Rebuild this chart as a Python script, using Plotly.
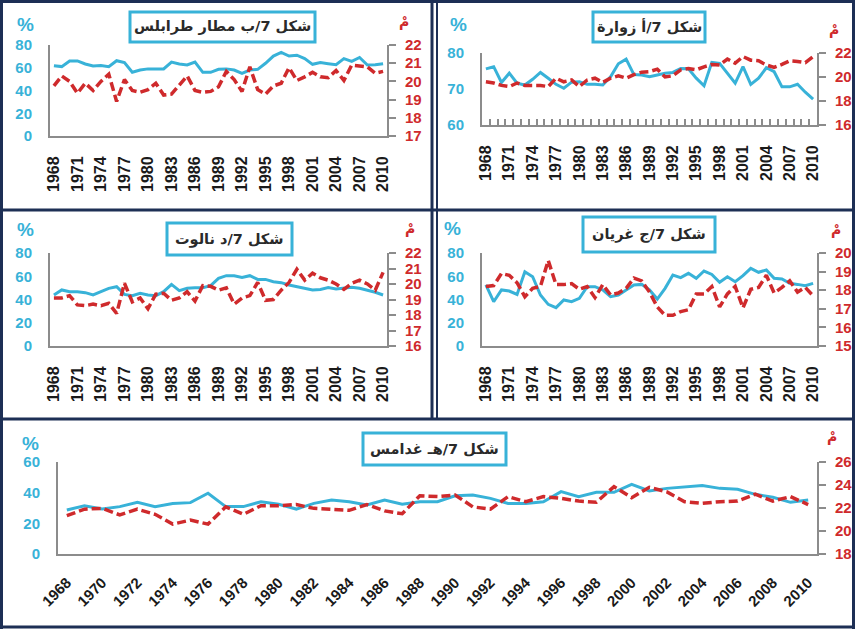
import plotly.graph_objects as go

W, H = 855, 629

years = list(range(1968, 2011))

titles = ["شكل 7/ب مطار طرابلس", "شكل 7/أ زوارة", "شكل 7/د نالوت", "شكل 7/ج غريان", "شكل 7/هـ غدامس"]

tripoli_rh = [61.8, 61, 66, 66, 63.3, 61.5, 62, 61, 66.2, 64.5, 56, 58, 59, 59, 59, 65, 63.3, 62.4, 65, 56,
              56, 58.6, 59, 58, 55, 58, 58.6, 63.9, 70.3, 73.5, 70.3, 71, 68, 63, 64.5, 63.6, 62.7, 68, 65.6, 69,
              62.4, 62.7, 63.6]
tripoli_temp = [19.75, 20.3, 20.0, 19.35, 19.9, 19.5, 20.0, 20.4, 18.9, 20.1, 19.5, 19.4, 19.55, 19.9, 19.25, 19.3,
                19.8, 20.3, 19.5, 19.4, 19.45, 19.7, 20.55, 20.1, 19.45, 20.8, 19.55, 19.3, 19.75, 19.9, 20.75,
                20.05, 20.25, 20.5, 20.25, 20.2, 20.6, 20.05, 20.9, 20.85, 20.8, 20.45, 20.55]

zuwara_rh = [75.6, 76.2, 71.8, 74.4, 71.6, 71.1, 72.7, 74.6, 73, 71.3, 70.2, 71.9, 72, 71.3, 71.3, 71.1, 73.4, 77,
             78.3, 74, 73.9, 73.4, 73.9, 74.4, 74.6, 75.7, 75.6, 73, 70.9, 77.4, 77.1, 74.4, 71.6, 76.2, 71.3, 73,
             75.9, 74.8, 70.6, 70.6, 71.3, 69.1, 67.2]
zuwara_temp = [19.6, 19.5, 19.3, 19.2, 19.5, 19.3, 19.3, 19.3, 19.2, 19.9, 19.6, 19.75, 19.2, 19.75, 19.9, 19.55,
               19.9, 20.1, 19.9, 20.2, 20.4, 20.45, 20.65, 20.0, 20.1, 20.6, 20.7, 20.6, 20.85, 21.05, 21.0, 21.5,
               21.15, 21.7, 21.4, 21.35, 21.0, 20.8, 21.05, 21.35, 21.3, 21.2, 21.7]

nalut_rh = [43.9, 48.2, 46.7, 46.7, 45.9, 43.9, 46.7, 49.6, 51, 44.4, 43.3, 45.3, 43.9, 43.3, 46.7, 53, 47.6, 49.6,
            50.2, 50.2, 51.9, 58.2, 60.5, 60.5, 59, 60.5, 57.3, 57.3, 55.3, 54.5, 52.5, 51, 49.6, 48.2, 48.7, 50.2,
            49, 49.6, 50.5, 49.6, 48.2, 46.2, 43.9]
nalut_temp = [19.1, 19.1, 19.25, 18.65, 18.6, 18.7, 18.6, 18.75, 18.1, 20.05, 18.85, 19.1, 18.4, 19.35, 19.4, 18.95,
              19.1, 19.5, 18.9, 19.9, 19.85, 19.6, 19.75, 18.7, 19.1, 19.25, 20.1, 18.95, 19.0, 19.6, 20.1, 20.95,
              20.25, 20.7, 20.4, 20.25, 20.0, 19.65, 20.05, 20.25, 20.0, 19.6, 20.75]

gharyan_rh = [52.5, 38.1, 48.2, 47.3, 44.4, 63.9, 59.6, 43.9, 35.8, 33, 39.6, 38.1, 41, 51, 51, 48.2, 42.4, 43.9,
              48.2, 52.5, 53, 48.2, 40.4, 49.6, 61.1, 58.8, 62.5, 58.2, 64.5, 61.6, 54.8, 59.6, 55.3, 60.5, 66.8,
              63.4, 65.4, 58.2, 57.6, 53.9, 53, 51.9, 53.9]
gharyan_temp = [18.2, 18.25, 18.9, 18.8, 18.4, 17.65, 18.1, 18.2, 19.6, 18.3, 18.3, 18.35, 18.05, 18.2, 17.6, 18.3,
                17.75, 17.85, 18.1, 18.65, 18.5, 17.9, 17.1, 16.65, 16.65, 16.85, 16.95, 17.8, 17.8, 18.2, 17.1,
                17.8, 18.2, 17.05, 18.05, 18.15, 18.8, 17.85, 18.15, 18.5, 17.9, 18.15, 17.7]

ghadames_rh = [28.7, 31.5, 29.3, 30.9, 33.7, 30.9, 33, 33.5, 39.6, 30.9, 30.9, 34.1, 32.4, 29.3, 33, 35.2, 34.1, 32,
               35.2, 32.4, 34.1, 34.1, 38, 38.5, 36.3, 33, 33, 34.1, 40.7, 37.4, 40.2, 40.2, 45.4, 41.1, 42.8, 43.5,
               44.6, 42.8, 42.2, 38.9, 37, 33.7, 35.2]
ghadames_temp = [21.33, 21.9, 21.97, 21.4, 21.9, 21.45, 20.6, 20.95, 20.6, 22.1, 21.45, 22.2, 22.2, 22.3, 21.97,
                 21.9, 21.8, 22.3, 21.75, 21.5, 23.07, 22.99, 23.13, 22.1, 21.9, 22.99, 22.55, 22.99, 22.84, 22.6,
                 22.5, 23.86, 22.9, 23.8, 23.4, 22.55, 22.4, 22.55, 22.6, 23.2, 22.6, 22.99, 22.3]

BLUE = "#38b2d8"
RED = "#cf2a2c"
AXIS = "#8c8c8c"
NAVY = "#1d2f55"


def px(x):
    return x / W


def py(y):
    return 1 - y / H


panels = [
    dict(rh=tripoli_rh, t=tripoli_temp, x=(50, 387), y=(45, 136), yl=(0, 80), dl=20, yr=(17, 22), dr=1,
         step=3, ang=-90, minor=False, title_box=(130, 12, 315, 42), pct=(25, 25), deg=(404, 22)),
    dict(rh=zuwara_rh, t=zuwara_temp, x=(482, 817), y=(53, 125), yl=(60, 80), dl=10, yr=(16, 22), dr=2,
         step=3, ang=-90, minor=True, title_box=(593, 12, 705, 42), pct=(458, 25), deg=(834, 30)),
    dict(rh=nalut_rh, t=nalut_temp, x=(50, 387), y=(253, 346), yl=(0, 80), dl=20, yr=(16, 22), dr=1,
         step=3, ang=-90, minor=False, title_box=(167, 223, 292, 255), pct=(25, 229), deg=(410, 229)),
    dict(rh=gharyan_rh, t=gharyan_temp, x=(482, 817), y=(253, 346), yl=(0, 80), dl=20, yr=(15, 20), dr=1,
         step=3, ang=-90, minor=False, title_box=(583, 217, 715, 252), pct=(452, 228), deg=(836, 230)),
    dict(rh=ghadames_rh, t=ghadames_temp, x=(58, 817), y=(462, 554), yl=(0, 60), dl=20, yr=(18, 26), dr=2,
         step=2, ang=-45, minor=False, title_box=(363, 433, 506, 465), pct=(30, 443), deg=(832, 437)),
]

fig = go.Figure()
shapes = []
annotations = []
layout = {}

for k, p in enumerate(panels, start=1):
    xid = "x" if k == 1 else f"x{k}"
    yid = "y" if k == 1 else f"y{k}"
    yrid = f"y{k + 5}"
    xkey = "xaxis" if k == 1 else f"xaxis{k}"
    ykey = "yaxis" if k == 1 else f"yaxis{k}"
    yrkey = f"yaxis{k + 5}"

    fig.add_trace(go.Scatter(x=years, y=p["rh"], mode="lines", line=dict(color=BLUE, width=3),
                             xaxis=xid, yaxis=yid, showlegend=False))
    fig.add_trace(go.Scatter(x=years, y=p["t"], mode="lines",
                             line=dict(color=RED, width=3.5, dash="9px,4px"),
                             xaxis=xid, yaxis=yrid, showlegend=False))

    tickfont_x = dict(family="Liberation Sans", size=16 if p["ang"] == -90 else 15, color="#1a1a1a", weight=700)
    xa = dict(domain=[px(p["x"][0]), px(p["x"][1])], anchor=yid, range=[1967.5, 2010.5],
              tickmode="array", tickvals=years[::p["step"]], tickangle=p["ang"], tickfont=tickfont_x,
              showline=True, linecolor=AXIS, linewidth=2, ticks="outside", ticklen=12,
              tickcolor="rgba(0,0,0,0)", showgrid=False, zeroline=False, fixedrange=True, automargin=False)
    if p["minor"]:
        xa["minor"] = dict(ticks="inside", ticklen=6, tickwidth=1.5, tickcolor=AXIS,
                           tickmode="array", tickvals=[yv + 0.5 for yv in years[:-1]])
    layout[xkey] = xa

    layout[ykey] = dict(domain=[py(p["y"][1]), py(p["y"][0])], anchor=xid, range=list(p["yl"]),
                        dtick=p["dl"], tick0=0, showline=True, linecolor=AXIS, linewidth=2,
                        ticks="outside", ticklen=13, tickcolor="rgba(0,0,0,0)",
                        tickfont=dict(family="Liberation Sans", size=15, color=BLUE, weight=700),
                        showgrid=False, zeroline=False, fixedrange=True, automargin=False)
    layout[yrkey] = dict(overlaying=yid, side="right", anchor=xid, range=list(p["yr"]), dtick=p["dr"],
                         tick0=0, showline=True, linecolor=AXIS, linewidth=2, ticks="outside", ticklen=7,
                         tickwidth=2, tickcolor=AXIS, ticklabelstandoff=6,
                         tickfont=dict(family="Liberation Sans", size=15, color=RED, weight=700),
                         showgrid=False, zeroline=False, fixedrange=True, automargin=False)

    x0, y0, x1, y1 = p["title_box"]
    shapes.append(dict(type="rect", xref="paper", yref="paper", x0=px(x0), x1=px(x1), y0=py(y1), y1=py(y0),
                       line=dict(color=BLUE, width=3), fillcolor="white", layer="above"))
    annotations.append(dict(xref="paper", yref="paper", x=px((x0 + x1) / 2), y=py((y0 + y1) / 2),
                            text=titles[k - 1], showarrow=False, xanchor="center", yanchor="middle",
                            font=dict(family="DejaVu Sans", size=14.5, color="#2a2a2a", weight=700)))
    annotations.append(dict(xref="paper", yref="paper", x=px(p["pct"][0]), y=py(p["pct"][1]), text="%",
                            showarrow=False, xanchor="center", yanchor="middle",
                            font=dict(family="Liberation Sans", size=19, color=BLUE, weight=700)))
    annotations.append(dict(xref="paper", yref="paper", x=px(p["deg"][0]), y=py(p["deg"][1]), text="مْ",
                            showarrow=False, xanchor="center", yanchor="middle",
                            font=dict(family="DejaVu Sans", size=14, color=RED, weight=700)))


def hline(y, x0, x1, w):
    shapes.append(dict(type="line", xref="paper", yref="paper", x0=px(x0), x1=px(x1), y0=py(y), y1=py(y),
                       line=dict(color=NAVY, width=w)))


def vline(x, y0, y1, w):
    shapes.append(dict(type="line", xref="paper", yref="paper", x0=px(x), x1=px(x), y0=py(y0), y1=py(y1),
                       line=dict(color=NAVY, width=w)))


hline(1.5, 0, W, 3)
hline(210, 0, W, 3)
hline(419, 0, W, 3)
hline(627, 0, W, 3)
vline(1.5, 0, H, 3)
vline(853.5, 0, H, 3)
vline(432, 0, 419, 3)
vline(437, 0, 419, 2)

layout.update(dict(width=W, height=H, autosize=False, margin=dict(l=0, r=0, t=0, b=0, autoexpand=False),
                   paper_bgcolor="white", plot_bgcolor="rgba(0,0,0,0)", shapes=shapes,
                   annotations=annotations, showlegend=False))
fig.update_layout(**layout)

fig.write_html("out.html", config={"displayModeBar": False},
               post_script="document.body.style.margin='0px';document.body.style.overflow='hidden';")
